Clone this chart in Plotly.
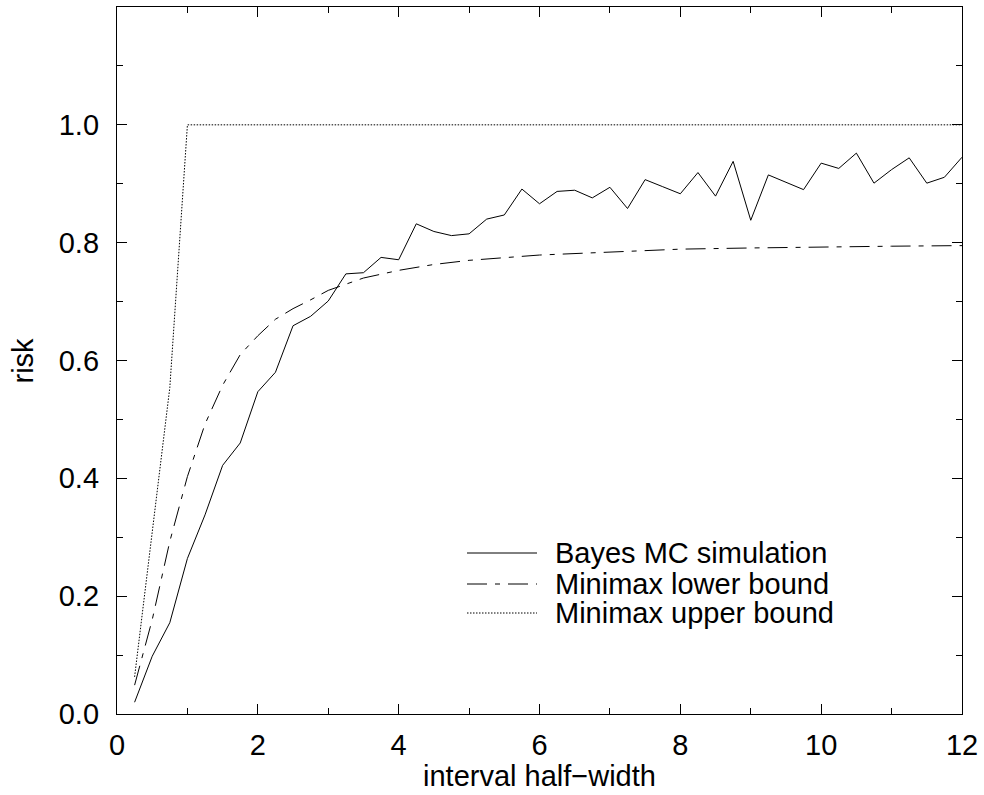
import plotly.graph_objects as go

# ---- data ----
bayes_x = [0.25, 0.5, 0.75, 1.0, 1.25, 1.5, 1.75, 2.0, 2.25, 2.5, 2.75, 3.0,
           3.25, 3.5, 3.75, 4.0, 4.25, 4.5, 4.75, 5.0, 5.25, 5.5, 5.75, 6.0,
           6.25, 6.5, 6.75, 7.0, 7.25, 7.5, 7.75, 8.0, 8.25, 8.5, 8.75, 9.0,
           9.25, 9.5, 9.75, 10.0, 10.25, 10.5, 10.75, 11.0, 11.25, 11.5, 11.75, 12.0]
bayes_y = [0.020, 0.098, 0.155, 0.264, 0.338, 0.422, 0.460, 0.547, 0.580, 0.659, 0.675, 0.701,
           0.747, 0.749, 0.775, 0.771, 0.832, 0.819, 0.812, 0.815, 0.840, 0.847, 0.891, 0.866,
           0.887, 0.889, 0.876, 0.894, 0.858, 0.907, 0.895, 0.883, 0.919, 0.879, 0.938, 0.838,
           0.915, 0.903, 0.890, 0.935, 0.926, 0.952, 0.901, 0.924, 0.944, 0.901, 0.911, 0.945]

lower_x = [0.25, 0.5, 0.75, 1.0, 1.25, 1.5, 1.75, 2.0, 2.25, 2.5, 2.75, 3.0,
           3.5, 4.0, 4.5, 5.0, 6.0, 7.0, 8.0, 9.0, 10.0, 11.0, 12.0]
lower_y = [0.049, 0.160, 0.293, 0.403, 0.492, 0.558, 0.610, 0.642, 0.670, 0.688, 0.703, 0.719,
           0.740, 0.753, 0.763, 0.770, 0.779, 0.784, 0.789, 0.791, 0.793, 0.794, 0.795]

upper_x = [0.25, 0.5, 0.75, 1.0, 12.0]
upper_y = [0.063, 0.309, 0.554, 1.0, 1.0]

series_names = ["Bayes MC simulation", "Minimax lower bound", "Minimax upper bound"]
x_tick_vals = [0, 2, 4, 6, 8, 10, 12]
x_tick_text = ["0", "2", "4", "6", "8", "10", "12"]
y_tick_vals = [0.0, 0.2, 0.4, 0.6, 0.8, 1.0]
y_tick_text = ["0.0", "0.2", "0.4", "0.6", "0.8", "1.0"]
x_minor_vals = [1, 3, 5, 7, 9, 11]
y_minor_vals = [0.1, 0.3, 0.5, 0.7, 0.9, 1.1]
x_title = "interval half\u2212width"
y_title = "risk"

FONT = "Liberation Sans, Arial, Helvetica, sans-serif"
dashes = ["solid", "20px,8px,5px,8px", "1.5px,1.5px"]

fig = go.Figure()
for xs, ys, name, dash in [(bayes_x, bayes_y, series_names[0], dashes[0]),
                           (lower_x, lower_y, series_names[1], dashes[1]),
                           (upper_x, upper_y, series_names[2], dashes[2])]:
    fig.add_trace(go.Scatter(x=xs, y=ys, mode="lines", name=name,
                             line=dict(color="black", width=1, dash=dash),
                             showlegend=False))

# manual legend (long line samples like the reference)
L, R, T, B = 117, 962, 7, 714
W, H = R - L, B - T
def px_x(p):
    return (p - L) / W
def px_y(p):
    return (B - p) / H

legend_rows = [553, 584, 613]
for name, dash, row in zip(series_names, dashes, legend_rows):
    fig.add_shape(type="line", xref="paper", yref="paper",
                  x0=px_x(467), x1=px_x(537), y0=px_y(row), y1=px_y(row),
                  line=dict(color="black", width=1, dash=dash))
    fig.add_annotation(xref="paper", yref="paper", x=px_x(554), y=px_y(row),
                       text=name, showarrow=False, xanchor="left", yanchor="middle",
                       borderpad=0,
                       font=dict(family=FONT, size=29, color="black"))

fig.add_annotation(xref="paper", yref="paper", x=0.5, y=px_y(776), text=x_title,
                   showarrow=False, xanchor="center", yanchor="middle",
                   font=dict(family=FONT, size=29, color="black"))
fig.add_annotation(xref="paper", yref="paper", x=px_x(22), y=0.5, text=y_title,
                   showarrow=False, xanchor="center", yanchor="middle", textangle=-90,
                   font=dict(family=FONT, size=29, color="black"))

axis_common = dict(showgrid=False, zeroline=False, showline=True, linecolor="black",
                   linewidth=1.3, mirror="ticks", ticks="inside", ticklen=10,
                   tickwidth=1, tickcolor="black",
                   tickfont=dict(family=FONT, size=29, color="black"))

fig.update_xaxes(range=[0, 12], tickmode="array", tickvals=x_tick_vals, ticktext=x_tick_text,
                 minor=dict(tickmode="array", tickvals=x_minor_vals, ticks="inside",
                            ticklen=6, tickcolor="black", tickwidth=1),
                 ticklabelstandoff=5, **axis_common)
fig.update_yaxes(range=[0, 1.2], tickmode="array", tickvals=y_tick_vals, ticktext=y_tick_text,
                 minor=dict(tickmode="array", tickvals=y_minor_vals, ticks="inside",
                            ticklen=6, tickcolor="black", tickwidth=1),
                 ticklabelstandoff=11, **axis_common)

fig.update_layout(width=984, height=795, autosize=False,
                  margin=dict(l=L, r=984 - R, t=T, b=795 - B),
                  paper_bgcolor="white", plot_bgcolor="white",
                  font=dict(family=FONT, color="black"))

fig.write_html("out.html", config={"displayModeBar": False},
               post_script="document.body.style.margin='0';document.body.style.overflow='hidden';")
